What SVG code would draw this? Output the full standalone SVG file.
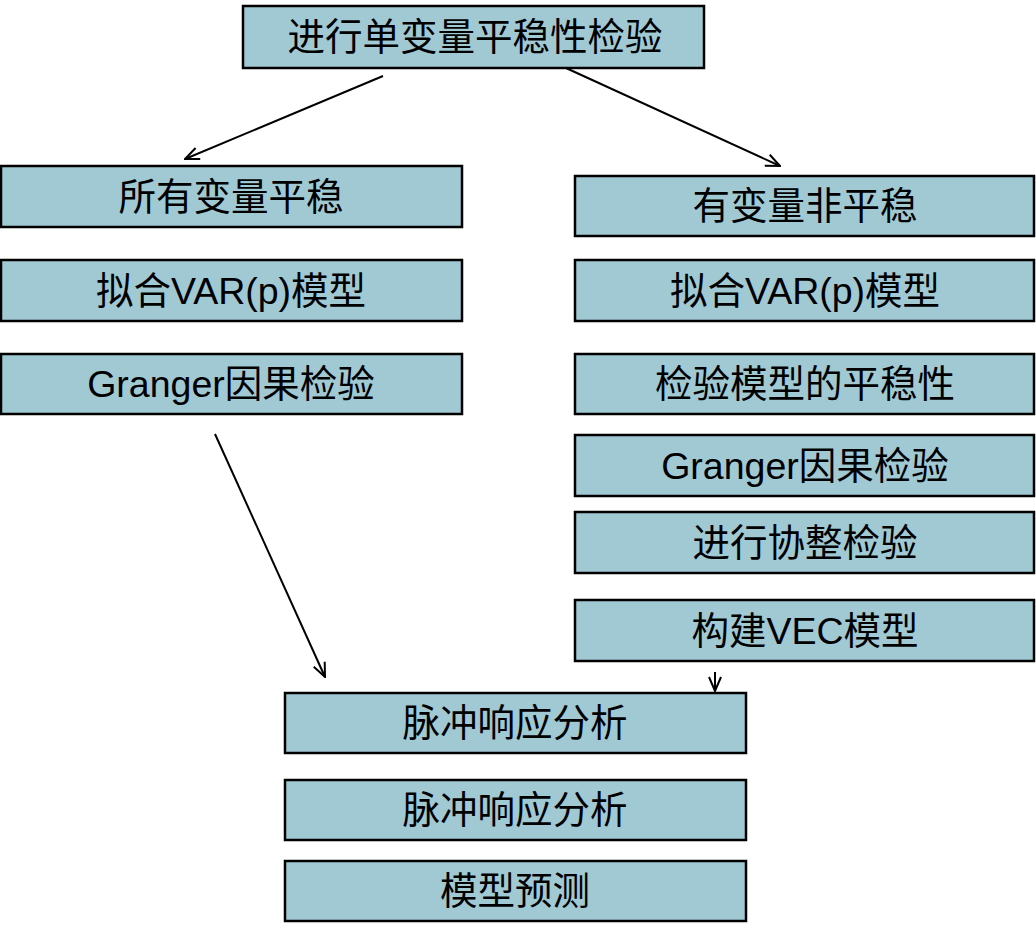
<svg xmlns="http://www.w3.org/2000/svg" width="1036" height="934" viewBox="0 0 1036 934">
<defs>
<style>
.box{fill:#A0C9D3;stroke:#000;stroke-width:2.5}
.t{font-family:"Liberation Sans","Noto Sans CJK SC",sans-serif;font-size:37.5px;fill:#000;text-anchor:middle;dominant-baseline:central}
.c{stroke:#000;stroke-width:2;fill:none}
</style>
<marker id="ah" viewBox="0 0 16 14" refX="15" refY="7" markerWidth="16" markerHeight="14" markerUnits="userSpaceOnUse" orient="auto">
<path d="M1,1 L15,7 L1,13" fill="none" stroke="#000" stroke-width="2"/>
</marker>
</defs>
<rect width="1036" height="934" fill="#fff"/>
<g id="connectors">
<line class="c" x1="383" y1="76" x2="185" y2="159" marker-end="url(#ah)"/>
<line class="c" x1="566" y1="68" x2="780" y2="166" marker-end="url(#ah)"/>
<line class="c" x1="215" y1="434" x2="325" y2="677" marker-end="url(#ah)"/>
<line class="c" x1="715" y1="672" x2="715" y2="691" marker-end="url(#ah)"/>
</g>
<g id="n0"><rect class="box" x="243" y="6" width="461" height="62"/><text class="t" x="475" y="37">进行单变量平稳性检验</text></g>
<g id="n1"><rect class="box" x="1" y="166" width="461" height="61"/><text class="t" x="231" y="197">所有变量平稳</text></g>
<g id="n2"><rect class="box" x="1" y="260" width="461" height="61"/><text class="t" x="231" y="291">拟合VAR(p)模型</text></g>
<g id="n3"><rect class="box" x="1" y="354" width="461" height="60"/><text class="t" x="231" y="384">Granger因果检验</text></g>
<g id="n4"><rect class="box" x="575" y="176" width="459" height="60"/><text class="t" x="805" y="206">有变量非平稳</text></g>
<g id="n5"><rect class="box" x="575" y="260" width="459" height="61"/><text class="t" x="805" y="291">拟合VAR(p)模型</text></g>
<g id="n6"><rect class="box" x="575" y="354" width="459" height="60"/><text class="t" x="805" y="384">检验模型的平稳性</text></g>
<g id="n7"><rect class="box" x="575" y="435" width="459" height="61"/><text class="t" x="805" y="466">Granger因果检验</text></g>
<g id="n8"><rect class="box" x="575" y="512" width="459" height="61"/><text class="t" x="805" y="543">进行协整检验</text></g>
<g id="n9"><rect class="box" x="575" y="600" width="459" height="61"/><text class="t" x="805" y="631">构建VEC模型</text></g>
<g id="n10"><rect class="box" x="285" y="693" width="461" height="60"/><text class="t" x="515" y="723">脉冲响应分析</text></g>
<g id="n11"><rect class="box" x="285" y="780" width="461" height="60"/><text class="t" x="515" y="810">脉冲响应分析</text></g>
<g id="n12"><rect class="box" x="285" y="861" width="461" height="60"/><text class="t" x="515" y="891">模型预测</text></g>
</svg>
